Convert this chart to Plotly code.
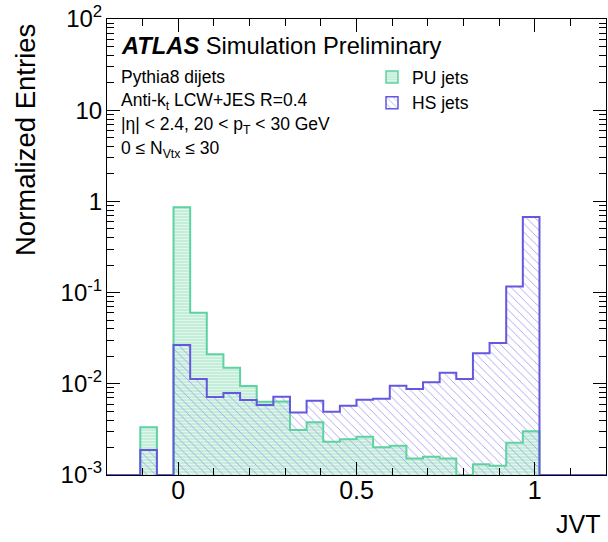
import plotly.graph_objects as go

# ---------------- data ----------------
BIN_LO = -0.2
BIN_HI = 1.2
N_BINS = 30

pu_values = [0, 0, 0.00333, 0, 0.861, 0.0602, 0.0211, 0.0150, 0.00946, 0.00637,
             0.0064, 0.00311, 0.00379, 0.00232, 0.00246, 0.00263, 0.00201, 0.00209,
             0.00152, 0.00159, 0.00152, 0, 0.00131, 0.00126, 0.00226, 0.00301,
             0, 0, 0, 0]
hs_values = [0, 0, 0.00188, 0, 0.0266, 0.0113, 0.00716, 0.00793, 0.00664, 0.00586,
             0.00723, 0.00486, 0.00653, 0.00494, 0.00575, 0.00670, 0.00687, 0.00953,
             0.00877, 0.0104, 0.0132, 0.0113, 0.0216, 0.0280, 0.117, 0.675,
             0, 0, 0, 0]
series_names = ["PU jets", "HS jets"]
y_tick_vals = [1e-3, 1e-2, 1e-1, 1, 10, 100]
y_tick_text = ["10<sup>-3</sup>", "10<sup>-2</sup>", "10<sup>-1</sup>", "1", "10", "10<sup>2</sup>"]
info_lines = ["Pythia8 dijets",
              "Anti-k<sub>t</sub> LCW+JES R=0.4",
              "|η| < 2.4, 20 < p<sub>T</sub> < 30 GeV",
              "0 ≤ N<sub>Vtx</sub> ≤ 30"]

# ---------------- style ----------------
W, H = 608, 542
L, R, T, B = 107, 2, 19, 67
YMIN, YMAX = 1e-3, 1e2
FONT = "Liberation Sans, Arial, Helvetica, sans-serif"

PU_LINE = "rgb(95,210,162)"
PU_BG = "rgb(196,238,218)"
HS_LINE = "rgb(100,88,222)"
HS_HATCH = "rgb(170,160,240)"

bw = (BIN_HI - BIN_LO) / N_BINS
edges = [BIN_LO + i * bw for i in range(N_BINS + 1)]
centers = [(edges[i] + edges[i + 1]) / 2 for i in range(N_BINS)]


def bar_y(vals):
    return [v if v > 0 else None for v in vals]


def step_y(vals):
    ys = [max(v, YMIN) for v in vals]
    return ys + [ys[-1]]


def px(xp):
    return (xp - L) / (W - L - R)


def py(yp):
    return (H - B - yp) / (H - T - B)


pu_pattern = dict(shape="-", bgcolor=PU_BG, fgcolor="rgba(255,255,255,0.55)",
                  size=3, solidity=0.3, fillmode="replace")
hs_pattern = dict(shape="\\", bgcolor="rgba(0,0,0,0)", fgcolor=HS_HATCH,
                  size=6, solidity=0.15, fillmode="replace")

fig = go.Figure()
fig.add_trace(go.Bar(x=centers, y=bar_y(pu_values), width=bw,
                     marker=dict(color=PU_BG, pattern=pu_pattern, line=dict(width=0)),
                     showlegend=False, hoverinfo="skip"))
fig.add_trace(go.Bar(x=centers, y=bar_y(hs_values), width=bw,
                     marker=dict(color="rgba(0,0,0,0)", pattern=hs_pattern, line=dict(width=0)),
                     showlegend=False, hoverinfo="skip"))
fig.add_trace(go.Scatter(x=edges, y=step_y(pu_values), mode="lines", line_shape="hv",
                         line=dict(color=PU_LINE, width=2), showlegend=False, hoverinfo="skip"))
fig.add_trace(go.Scatter(x=edges, y=step_y(hs_values), mode="lines", line_shape="hv",
                         line=dict(color=HS_LINE, width=2), showlegend=False, hoverinfo="skip"))
# legend entries
fig.add_trace(go.Bar(x=[None], y=[None], name=series_names[0],
                     marker=dict(color=PU_BG, pattern=pu_pattern,
                                 line=dict(color=PU_LINE, width=1.5))))
fig.add_trace(go.Bar(x=[None], y=[None], name=series_names[1],
                     marker=dict(color="rgba(0,0,0,0)", pattern=hs_pattern,
                                 line=dict(color=HS_LINE, width=1.5))))

annotations = [
    dict(text="<b><i>ATLAS</i></b> Simulation Preliminary", x=px(119), y=py(46),
         xanchor="left", yanchor="middle", font=dict(size=23.7)),
    dict(text="Normalized Entries", textangle=-90, x=px(25), y=py(140),
         xanchor="center", yanchor="middle", font=dict(size=27.5)),
    dict(text="JVT", x=px(602), y=py(540), xanchor="right", yanchor="bottom",
         font=dict(size=25)),
]
for i, t in enumerate(info_lines):
    annotations.append(dict(text=t, x=px(119), y=py(77 + 24.3 * i), xanchor="left",
                            yanchor="middle", font=dict(size=17.5)))
for a in annotations:
    a.update(xref="paper", yref="paper", showarrow=False)

minor_y = [k * 10 ** n for n in range(-3, 2) for k in range(2, 10)]

fig.update_layout(
    width=W, height=H,
    margin=dict(l=L, r=R, t=T, b=B),
    paper_bgcolor="white", plot_bgcolor="white",
    font=dict(family=FONT, color="black"),
    barmode="overlay", bargap=0,
    annotations=annotations,
    legend=dict(x=px(372), y=py(59), xanchor="left", yanchor="top",
                bgcolor="rgba(0,0,0,0)", font=dict(size=17.5), itemwidth=30,
                tracegroupgap=0),
    xaxis=dict(range=[BIN_LO, BIN_HI], tick0=0, dtick=0.5, ticks="inside", ticklen=13,
               tickcolor="black", showline=True, linecolor="black", linewidth=1,
               mirror="allticks", showgrid=False, zeroline=False,
               tickfont=dict(size=25), ticklabelstandoff=-7,
               minor=dict(dtick=0.1, tick0=0, ticks="inside", ticklen=7,
                          tickcolor="black", showgrid=False)),
    yaxis=dict(type="log", range=[-3, 2], tickvals=y_tick_vals, ticktext=y_tick_text,
               ticks="inside", ticklen=13, tickcolor="black", showline=True,
               linecolor="black", linewidth=1, mirror="allticks", showgrid=False,
               zeroline=False, tickfont=dict(size=24), ticklabelstandoff=-1,
               minor=dict(tickvals=minor_y, ticks="inside", ticklen=7,
                          tickcolor="black", showgrid=False)),
)

fig.write_html("out.html")
